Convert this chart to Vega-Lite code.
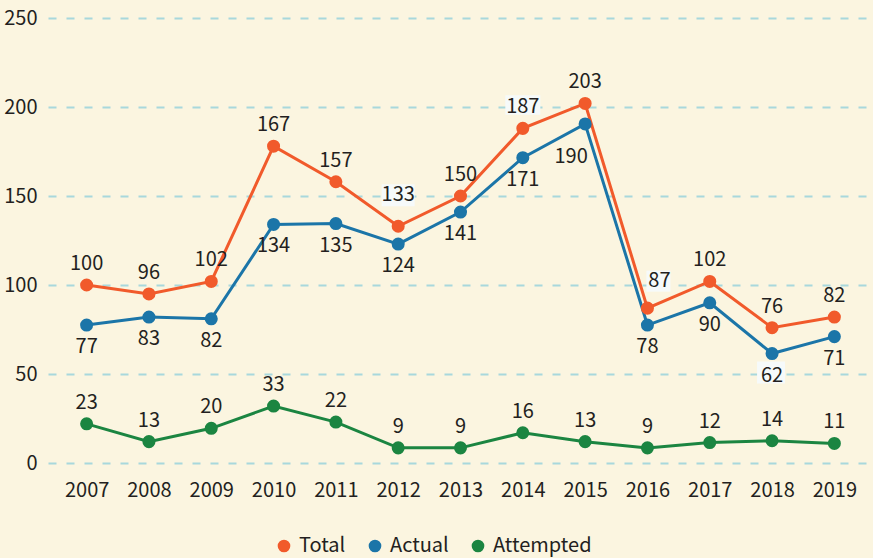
{
  "$schema": "https://vega.github.io/schema/vega-lite/v6.json",
  "width": 825,
  "height": 445,
  "autosize": {"type": "none"},
  "padding": {"left": 48, "top": 18, "right": 0, "bottom": 95},
  "background": "#fbf5e0",
  "config": {
    "view": {"stroke": null},
    "font": "Noto Sans CJK SC, sans-serif"
  },
  "data": {
    "values": [
      {"year": "2007", "series": "Total", "value": 100, "label": "100"},
      {"year": "2008", "series": "Total", "value": 95, "label": "96"},
      {"year": "2009", "series": "Total", "value": 102, "label": "102"},
      {"year": "2010", "series": "Total", "value": 178, "label": "167"},
      {"year": "2011", "series": "Total", "value": 158, "label": "157"},
      {"year": "2012", "series": "Total", "value": 133, "label": "133"},
      {"year": "2013", "series": "Total", "value": 150, "label": "150"},
      {"year": "2014", "series": "Total", "value": 188, "label": "187"},
      {"year": "2015", "series": "Total", "value": 202, "label": "203"},
      {"year": "2016", "series": "Total", "value": 87, "label": "87"},
      {"year": "2017", "series": "Total", "value": 102, "label": "102"},
      {"year": "2018", "series": "Total", "value": 76, "label": "76"},
      {"year": "2019", "series": "Total", "value": 82, "label": "82"},
      {"year": "2007", "series": "Actual", "value": 77.5, "label": "77"},
      {"year": "2008", "series": "Actual", "value": 82, "label": "83"},
      {"year": "2009", "series": "Actual", "value": 81, "label": "82"},
      {"year": "2010", "series": "Actual", "value": 134, "label": "134"},
      {"year": "2011", "series": "Actual", "value": 134.5, "label": "135"},
      {"year": "2012", "series": "Actual", "value": 123, "label": "124"},
      {"year": "2013", "series": "Actual", "value": 141, "label": "141"},
      {"year": "2014", "series": "Actual", "value": 171.5, "label": "171"},
      {"year": "2015", "series": "Actual", "value": 190.5, "label": "190"},
      {"year": "2016", "series": "Actual", "value": 77.5, "label": "78"},
      {"year": "2017", "series": "Actual", "value": 90, "label": "90"},
      {"year": "2018", "series": "Actual", "value": 61.5, "label": "62"},
      {"year": "2019", "series": "Actual", "value": 71, "label": "71"},
      {"year": "2007", "series": "Attempted", "value": 22, "label": "23"},
      {"year": "2008", "series": "Attempted", "value": 12, "label": "13"},
      {"year": "2009", "series": "Attempted", "value": 19.5, "label": "20"},
      {"year": "2010", "series": "Attempted", "value": 32, "label": "33"},
      {"year": "2011", "series": "Attempted", "value": 23, "label": "22"},
      {"year": "2012", "series": "Attempted", "value": 8.5, "label": "9"},
      {"year": "2013", "series": "Attempted", "value": 8.5, "label": "9"},
      {"year": "2014", "series": "Attempted", "value": 17, "label": "16"},
      {"year": "2015", "series": "Attempted", "value": 12, "label": "13"},
      {"year": "2016", "series": "Attempted", "value": 8.5, "label": "9"},
      {"year": "2017", "series": "Attempted", "value": 11.5, "label": "12"},
      {"year": "2018", "series": "Attempted", "value": 12.5, "label": "14"},
      {"year": "2019", "series": "Attempted", "value": 11, "label": "11"}
    ]
  },
  "encoding": {
    "x": {
      "field": "year",
      "type": "ordinal",
      "scale": {"type": "point", "padding": 0.62},
      "axis": {
        "title": null,
        "labelAngle": 0,
        "domain": false,
        "ticks": false,
        "grid": false,
        "labelPadding": 17,
        "labelFontSize": 20,
        "labelColor": "#231f20"
      }
    },
    "y": {
      "field": "value",
      "type": "quantitative",
      "scale": {"domain": [0, 250], "nice": false},
      "axis": {
        "title": null,
        "values": [0, 50, 100, 150, 200, 250],
        "domain": false,
        "ticks": false,
        "labelPadding": 11,
        "grid": true,
        "gridColor": "#a8d8dc",
        "gridWidth": 2,
        "gridDash": [8, 10],
        "gridOpacity": 1,
        "labelFontSize": 20,
        "labelColor": "#231f20"
      }
    }
  },
  "layer": [
    {
      "mark": {"type": "line", "strokeWidth": 3},
      "encoding": {
        "color": {
          "field": "series",
          "type": "nominal",
          "scale": {"domain": ["Total", "Actual", "Attempted"], "range": ["#f15a2b", "#1b75a8", "#1b8541"]},
          "legend": {
            "title": null,
            "orient": "none",
            "direction": "horizontal",
            "legendX": 226,
            "legendY": 518,
            "symbolType": "circle",
            "symbolSize": 160,
            "symbolStrokeWidth": 0,
            "labelFont": "Noto Sans CJK SC, sans-serif",
            "labelFontSize": 20,
            "labelColor": "#231f20",
            "labelOffset": 5,
            "columnPadding": 19
          }
        },
        "detail": {"field": "series"}
      }
    },
    {
      "transform": [{"filter": "datum.series === 'Total' && datum.year === '2012'"}],
      "mark": {"type": "point", "filled": true, "opacity": 1, "size": 4, "fill": "#f6fafa", "strokeWidth": 0, "shape": "M-16.5,-42 L16.5,-42 L16.5,-20 L-16.5,-20 Z"}
    },
    {
      "transform": [{"filter": "datum.series === 'Total' && datum.year === '2014'"}],
      "mark": {"type": "point", "filled": true, "opacity": 1, "size": 4, "fill": "#f6fafa", "strokeWidth": 0, "shape": "M-17.5,-33 L17.5,-33 L17.5,-13.5 L-17.5,-13.5 Z"}
    },
    {
      "transform": [{"filter": "datum.series === 'Total' && datum.year === '2016'"}],
      "mark": {"type": "point", "filled": true, "opacity": 1, "size": 4, "fill": "#f6fafa", "strokeWidth": 0, "shape": "M-1,-37.5 L23,-37.5 L23,-16.5 L-1,-16.5 Z"}
    },
    {
      "transform": [{"filter": "datum.series === 'Actual' && datum.year === '2018'"}],
      "mark": {"type": "point", "filled": true, "opacity": 1, "size": 4, "fill": "#f6fafa", "strokeWidth": 0, "shape": "M-15,8 L13,8 L13,30 L-15,30 Z"}
    },
    {
      "mark": {"type": "point", "filled": true, "opacity": 1, "size": 170, "shape": "circle"},
      "encoding": {
        "color": {
          "field": "series",
          "type": "nominal",
          "scale": {"domain": ["Total", "Actual", "Attempted"], "range": ["#f15a2b", "#1b75a8", "#1b8541"]},
          "legend": {
            "title": null,
            "orient": "none",
            "direction": "horizontal",
            "legendX": 226,
            "legendY": 518,
            "symbolType": "circle",
            "symbolSize": 160,
            "symbolStrokeWidth": 0,
            "labelFont": "Noto Sans CJK SC, sans-serif",
            "labelFontSize": 20,
            "labelColor": "#231f20",
            "labelOffset": 5,
            "columnPadding": 19
          }
        }
      }
    },
    {
      "transform": [{"filter": "datum.series === 'Total' && datum.year !== '2012' && datum.year !== '2016'"}],
      "mark": {"type": "text", "fontSize": 20, "color": "#231f20", "align": "center", "baseline": "middle", "dy": -21},
      "encoding": {"text": {"field": "label"}}
    },
    {
      "transform": [{"filter": "datum.series === 'Total' && datum.year === '2012'"}],
      "mark": {"type": "text", "fontSize": 20, "color": "#231f20", "align": "center", "baseline": "middle", "dy": -31},
      "encoding": {"text": {"field": "label"}}
    },
    {
      "transform": [{"filter": "datum.series === 'Total' && datum.year === '2016'"}],
      "mark": {"type": "text", "fontSize": 20, "color": "#231f20", "align": "center", "baseline": "middle", "dx": 12, "dy": -27},
      "encoding": {"text": {"field": "label"}}
    },
    {
      "transform": [{"filter": "datum.series === 'Actual' && datum.year !== '2015'"}],
      "mark": {"type": "text", "fontSize": 20, "color": "#231f20", "align": "center", "baseline": "middle", "dy": 22},
      "encoding": {"text": {"field": "label"}}
    },
    {
      "transform": [{"filter": "datum.series === 'Actual' && datum.year === '2015'"}],
      "mark": {"type": "text", "fontSize": 20, "color": "#231f20", "align": "center", "baseline": "middle", "dx": -14, "dy": 33},
      "encoding": {"text": {"field": "label"}}
    },
    {
      "transform": [{"filter": "datum.series === 'Attempted'"}],
      "mark": {"type": "text", "fontSize": 20, "color": "#231f20", "align": "center", "baseline": "middle", "dy": -21},
      "encoding": {"text": {"field": "label"}}
    }
  ]
}
